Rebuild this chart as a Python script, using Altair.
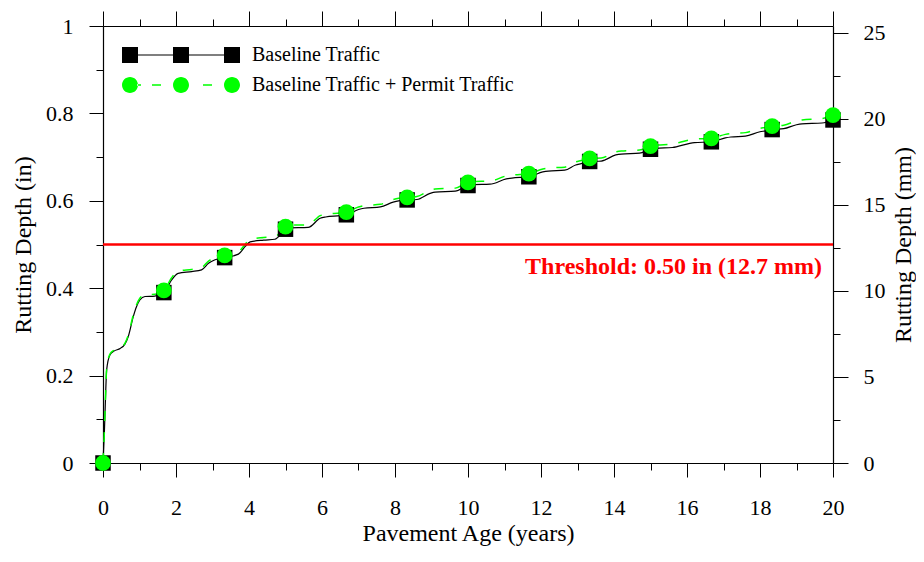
import altair as alt
import pandas as pd

SERIES = ["Baseline Traffic", "Baseline Traffic + Permit Traffic"]
COLORS = ["#000000", "#00FF00"]

# Rutting curves (pavement age in years, rutting depth in inches)
curve_x = [0.00, 0.04, 0.07, 0.10, 0.19, 0.30, 0.47, 0.60, 0.69, 0.83, 0.92, 1.01,
           1.15, 1.42, 1.67, 1.88, 2.06, 2.43, 2.70, 2.89, 3.07, 3.33, 3.71, 3.89,
           4.03, 4.40, 4.71, 4.90, 5.00, 5.10, 5.62, 5.95, 6.10, 6.50, 6.67, 7.00,
           7.15, 7.60, 7.95, 8.10, 8.33, 8.60, 8.96, 9.10, 9.65, 10.00, 10.15, 10.60,
           11.05, 11.20, 11.67, 12.05, 12.20, 12.65, 12.95, 13.10, 13.33, 13.65, 14.05,
           14.20, 14.70, 15.00, 15.15, 15.60, 16.05, 16.20, 16.67, 17.05, 17.20, 17.60,
           18.00, 18.15, 18.33, 18.65, 19.00, 19.15, 19.70, 20.00]
base_y = [0.000, 0.076, 0.152, 0.213, 0.247, 0.256, 0.262, 0.272, 0.289, 0.335, 0.358, 0.373,
          0.381, 0.382, 0.390, 0.419, 0.434, 0.438, 0.442, 0.457, 0.465, 0.470, 0.478, 0.495,
          0.506, 0.510, 0.512, 0.526, 0.535, 0.538, 0.539, 0.560, 0.563, 0.566, 0.568, 0.580,
          0.583, 0.586, 0.597, 0.600, 0.602, 0.603, 0.617, 0.620, 0.622, 0.635, 0.637, 0.638,
          0.650, 0.652, 0.655, 0.666, 0.668, 0.670, 0.682, 0.685, 0.690, 0.691, 0.705,
          0.707, 0.709, 0.718, 0.720, 0.722, 0.731, 0.733, 0.735, 0.744, 0.746, 0.748,
          0.758, 0.760, 0.763, 0.765, 0.774, 0.776, 0.778, 0.785]
permit_y = [0.000, 0.077, 0.153, 0.215, 0.249, 0.258, 0.264, 0.274, 0.292, 0.339, 0.362, 0.377,
            0.385, 0.386, 0.395, 0.424, 0.439, 0.443, 0.447, 0.462, 0.470, 0.475, 0.483, 0.500,
            0.512, 0.516, 0.518, 0.532, 0.541, 0.544, 0.545, 0.566, 0.569, 0.572, 0.574, 0.586,
            0.589, 0.592, 0.603, 0.606, 0.608, 0.610, 0.624, 0.627, 0.629, 0.642, 0.644, 0.645,
            0.657, 0.659, 0.662, 0.673, 0.675, 0.677, 0.689, 0.692, 0.697, 0.698, 0.712,
            0.714, 0.716, 0.725, 0.727, 0.730, 0.739, 0.741, 0.743, 0.752, 0.754, 0.756,
            0.766, 0.768, 0.771, 0.773, 0.783, 0.785, 0.788, 0.796]

# Marker positions (every 20 months)
marker_x = [0, 1.667, 3.333, 5, 6.667, 8.333, 10, 11.667, 13.333, 15, 16.667, 18.333, 20]
base_marker_y = [0.000, 0.390, 0.470, 0.535, 0.568, 0.602, 0.635, 0.655, 0.690, 0.718, 0.735, 0.763, 0.785]
permit_marker_y = [0.000, 0.395, 0.475, 0.541, 0.574, 0.608, 0.642, 0.662, 0.697, 0.725, 0.743, 0.771, 0.796]

threshold_in = [0.5]
threshold_label = ["Threshold: 0.50 in (12.7 mm)"]

x_major = [0, 2, 4, 6, 8, 10, 12, 14, 16, 18, 20]
x_minor = [1, 3, 5, 7, 9, 11, 13, 15, 17, 19]
y_major = [0, 0.2, 0.4, 0.6, 0.8, 1.0]
y_minor = [0.1, 0.3, 0.5, 0.7, 0.9]
mm_major = [0, 5, 10, 15, 20, 25]
mm_minor = [2.5, 7.5, 12.5, 17.5, 22.5]

FONT = "Liberation Serif"

curve_df = pd.DataFrame({"x": curve_x, "base": base_y, "permit": permit_y})
marker_df = pd.DataFrame({"x": marker_x, "base": base_marker_y, "permit": permit_marker_y})
legend_df = pd.DataFrame({"x": [0, 0], "base": [0, 0], "series": SERIES})
thr_df = pd.DataFrame({"x": [0], "x2": [20], "y": threshold_in, "label": threshold_label, "xt": [20]})

XS = alt.Scale(domain=[0, 20], nice=False, zero=False)
YS = alt.Scale(domain=[0, 1], nice=False, zero=False)
MS = alt.Scale(domain=[0, 25.4], nice=False, zero=False)

X0 = alt.X("x:Q", scale=XS, axis=None)

base_line = alt.Chart(curve_df).mark_line(
    color="black", strokeWidth=1.2, interpolate="monotone"
).encode(x=X0, y=alt.Y("base:Q", scale=YS, axis=None))

permit_line = alt.Chart(curve_df).mark_line(
    color="#00FF00", strokeWidth=1.5, strokeDash=[10, 11], interpolate="monotone"
).encode(x=X0, y=alt.Y("permit:Q", scale=YS, axis=None))

thr_rule = alt.Chart(thr_df).mark_rule(color="#FF0000", strokeWidth=2.5).encode(
    x=X0, x2="x2:Q", y=alt.Y("y:Q", scale=YS, axis=None))

thr_text = alt.Chart(thr_df).mark_text(
    align="right", baseline="alphabetic", dx=-11, dy=29, font=FONT, fontSize=24,
    fontWeight="bold", color="#FF0000"
).encode(x=alt.X("xt:Q", scale=XS, axis=None), y=alt.Y("y:Q", scale=YS, axis=None), text="label:N")

squares = alt.Chart(marker_df).mark_square(size=240, color="black", opacity=1, strokeWidth=0).encode(
    x=X0, y=alt.Y("base:Q", scale=YS, axis=None))

circles = alt.Chart(marker_df).mark_circle(size=250, color="#00FF00", opacity=1, strokeWidth=0).encode(
    x=X0, y=alt.Y("permit:Q", scale=YS, axis=None))


def axis_layer(xaxis, yaxis, yscale):
    return alt.Chart(marker_df).transform_filter("false").mark_point().encode(
        x=alt.X("x:Q", scale=XS, axis=xaxis),
        y=alt.Y("base:Q", scale=yscale, axis=yaxis),
    )


bottom_left_major = axis_layer(
    alt.Axis(orient="bottom", values=x_major, tickSize=14, labelPadding=20, format="~g",
             title="Pavement Age (years)", titlePadding=3, domain=True, labelFlush=False),
    alt.Axis(orient="left", values=y_major, tickSize=14, labelPadding=16, format="~g",
             title="Rutting Depth (in)", titlePadding=10, domain=True),
    YS,
)
bottom_left_minor = axis_layer(
    alt.Axis(orient="bottom", values=x_minor, tickSize=7, labels=False, domain=False, title=None),
    alt.Axis(orient="left", values=y_minor, tickSize=7, labels=False, domain=False, title=None),
    YS,
)
top_right_major = axis_layer(
    alt.Axis(orient="top", values=x_major, tickSize=15, labels=False, domain=True, title=None),
    alt.Axis(orient="right", values=mm_major, tickSize=15, labelPadding=15, format="~g",
             title="Rutting Depth (mm)", titlePadding=6, titleAngle=-90, titleBaseline="top",
             domain=True),
    MS,
)
top_right_minor = axis_layer(
    alt.Axis(orient="top", values=x_minor, tickSize=7, labels=False, domain=False, title=None),
    alt.Axis(orient="right", values=mm_minor, tickSize=7, labels=False, domain=False, title=None),
    MS,
)

SQ_PATH = "M0,-8H16V-0.6H51V-8H67V-0.6H102V-8H118V8H102V0.6H67V8H51V0.6H16V8H0Z"
CI_PATH = ("M0,0A8,8 0 1,0 16,0A8,8 0 1,0 0,0Z "
           "M51,0A8,8 0 1,0 67,0A8,8 0 1,0 51,0Z "
           "M102,0A8,8 0 1,0 118,0A8,8 0 1,0 102,0Z "
           "M15,-0.75H19V0.75H15Z M30,-0.75H39V0.75H30Z M81,-0.75H90V0.75H81Z")

leg = alt.Legend(title=None, orient="none", legendX=9, legendY=19, labelFont=FONT,
                 labelFontSize=20, labelColor="black", symbolSize=4, symbolStrokeWidth=0,
                 labelOffset=120, rowPadding=10, padding=0, symbolOpacity=1, labelLimit=500)

legend_layer = alt.Chart(legend_df).transform_filter("false").mark_point(filled=True, strokeWidth=0).encode(
    x=alt.X("x:Q", scale=XS, axis=None),
    y=alt.Y("base:Q", scale=YS, axis=None),
    color=alt.Color("series:N", scale=alt.Scale(domain=SERIES, range=COLORS), legend=leg),
    shape=alt.Shape("series:N", scale=alt.Scale(domain=SERIES, range=[SQ_PATH, CI_PATH]), legend=leg),
)

chart = alt.layer(
    bottom_left_major, bottom_left_minor, top_right_major, top_right_minor,
    base_line, permit_line, thr_rule, thr_text, squares, circles, legend_layer,
).resolve_scale(x="independent", y="independent").properties(
    width=730, height=437,
    autosize=alt.AutoSizeParams(type="none"),
    padding={"left": 95, "top": 18, "right": 83, "bottom": 85},
).configure_view(stroke=None).configure_axis(
    grid=False, domainColor="black", domainWidth=1.2, tickColor="black", tickWidth=1,
    labelColor="black", titleColor="black", labelFont=FONT, titleFont=FONT,
    labelFontSize=22, titleFontSize=24, titleFontWeight="normal",
)

chart.save("out.html", embed_options={"renderer": "svg", "actions": False})
